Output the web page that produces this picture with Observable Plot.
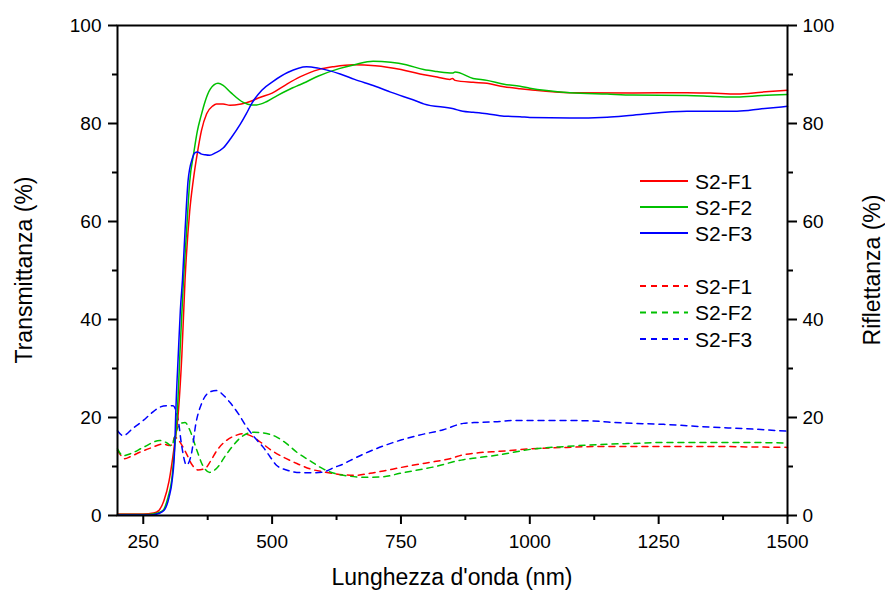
<!DOCTYPE html>
<html>
<head>
<meta charset="utf-8">
<script src="https://cdn.jsdelivr.net/npm/d3@7"></script>
<script src="https://cdn.jsdelivr.net/npm/@observablehq/plot@0.6"></script>
<style>
  html, body { margin: 0; padding: 0; background: #fff; }
  #chart { width: 885px; height: 590px; }
</style>
</head>
<body>
<div id="chart"></div>
<script>
// ---- Data ----
const seriesNames = ["S2-F1", "S2-F2", "S2-F3"];
const seriesColors = ["#ff0000", "#00c000", "#0000ff"];

// Transmittance (solid)
const tRedWl = [200,250,270,280,290,300,310,318,325,331,340,347,355,363,373,385,392,405,418,440,460,476,500,525,554,590,620,658,700,750,787,820,845,850,855,890,917,950,981,1000,1078,1200,1305,1350,1402,1450,1500];
const tRedVal = [0.3,0.3,0.5,1.0,3.0,7.0,14,21,33,48,62,68.4,74,78.6,82,83.6,84,84,83.7,84,84.6,85.3,86.2,87.8,89.5,91,91.6,92,91.8,91,90.1,89.5,89.0,89.2,88.8,88.4,88.2,87.5,87.1,86.9,86.3,86.2,86.3,86.2,86.0,86.4,86.8];

const tGreenWl = [200,260,278,288,298,305,311,316,322,328,334,340,348,355,362,370,380,395,405,420,444,460,470,490,510,540,554,590,630,660,696,730,760,794,820,850,855,890,917,950,981,1000,1078,1150,1200,1305,1360,1402,1450,1500];
const tGreenVal = [0.2,0.2,0.5,1,3.7,7.1,13.9,21,35,48,58,68,74,78.5,81.5,84.5,87,88.2,87.8,86.3,84.3,83.8,83.8,84.5,85.7,87.3,87.9,89.7,91.2,92,92.7,92.5,92,91,90.6,90.3,90.5,89.2,88.8,88,87.6,87.2,86.3,86,85.8,85.7,85.5,85.4,85.7,85.9];

const tBlueWl = [200,265,280,290,300,306,311,313,318,322,326,331,337,345,350,355,362,370,379,390,405,420,438,450,460,480,502,530,567,590,632,660,700,730,787,794,852,870,890,917,950,981,1000,1078,1150,1200,1305,1402,1450,1500];
const tBlueVal = [0.1,0.1,0.4,1,3.7,7.1,13.9,20.8,33,42,48,58,68.4,72.8,74,74.2,73.8,73.6,73.5,74,75,77,79.8,82,84,86.8,88.6,90.4,91.6,91.3,90.1,89,87.6,86.4,84.3,84,83,82.5,82.3,82,81.5,81.4,81.2,81.1,81.3,81.7,82.5,82.5,83,83.5];

// Reflectance (dashed)
const rRedWl = [200,207,214,225,243,265,289,300,306,311,318,332,345,356,370,380,393,410,431,442,460,477,500,522,548,574,600,638,660,690,716,750,781,815,845,871,900,942,1001,1072,1137,1200,1260,1357,1420,1500];
const rRedVal = [13.3,12.2,11.6,12.0,12.9,13.8,14.6,14.3,14.4,16.0,15.4,13.0,10.3,9.3,9.6,11,13.3,15.2,16.4,16.7,16.2,15,13.2,11.9,10.6,9.5,8.9,8.3,8.2,8.6,9.1,9.8,10.4,11.0,11.6,12.4,12.8,13.1,13.6,13.9,14.1,14.1,14.1,14.1,14.0,13.9];

const rGreenWl = [200,211,225,250,282,296,305,312,321,331,340,354,365,379,392,412,444,463,480,509,530,548,573,599,638,684,716,748,813,871,900,942,1001,1072,1137,1200,1260,1357,1420,1500];
const rGreenVal = [13.6,12.2,12.6,13.9,15.3,14.8,14.2,16.5,18.7,19.0,17.5,13.3,10.3,8.8,9.6,12.6,16.3,17.0,16.9,16.0,14.5,12.9,11.2,9.5,8.2,7.8,7.9,8.6,9.9,11.4,11.8,12.4,13.5,14.1,14.5,14.7,14.9,14.9,14.9,14.8];

const rBlueWl = [200,211,230,250,265,282,295,308,314,318,324,334,344,352,363,379,392,405,418,435,451,467,483,496,509,528,548,575,600,620,638,651,683,716,750,781,832,871,900,942,968,1007,1065,1137,1162,1260,1357,1421,1500];
const rBlueVal = [17.3,16.3,17.8,19.4,20.8,22.1,22.4,22.4,21.2,19.4,14.6,10.3,12.9,18.7,22.8,25.2,25.5,24.6,23.1,20.7,18,15.8,13.9,12,10.2,9.3,8.8,8.7,8.9,9.8,10.5,11.2,12.8,14.2,15.4,16.3,17.5,18.8,19.0,19.2,19.4,19.4,19.4,19.2,19.0,18.6,18.0,17.7,17.2];

// Axis ticks and labels
const xMajor = [250, 500, 750, 1000, 1250, 1500];
const xMinor = [375, 625, 875, 1125, 1375];
const yMajor = [0, 20, 40, 60, 80, 100];
const yMinor = [10, 30, 50, 70, 90];
const xTitle = "Lunghezza d'onda (nm)";
const yLeftTitle = "Transmittanza (%)";
const yRightTitle = "Riflettanza (%)";

// ---- Build ----
const toRows = (wl, vals) => wl.map((w, i) => ({w, v: vals[i]}));
const tSets = [toRows(tRedWl, tRedVal), toRows(tGreenWl, tGreenVal), toRows(tBlueWl, tBlueVal)];
const rSets = [toRows(rRedWl, rRedVal), toRows(rGreenWl, rGreenVal), toRows(rBlueWl, rBlueVal)];

const W = 885, H = 590, mL = 117, mR = 98, mT = 25, mB = 75;
const axisCommon = {stroke: "black", strokeWidth: 2, label: null, fill: "black"};

const marks = [];
rSets.forEach((d, i) => marks.push(Plot.line(d, {x: "w", y: "v", stroke: seriesColors[i], strokeWidth: 1.5, strokeDasharray: "6,5", curve: "monotone-x"})));
tSets.forEach((d, i) => marks.push(Plot.line(d, {x: "w", y: "v", stroke: seriesColors[i], strokeWidth: 1.5, curve: "monotone-x"})));
marks.push(
  Plot.frame({stroke: "black", strokeWidth: 2}),
  Plot.axisX({...axisCommon, ticks: xMajor, tickSize: 9, tickPadding: 10, tickFormat: d => String(d)}),
  Plot.axisX({...axisCommon, ticks: xMinor, tickSize: 5, tickFormat: () => ""}),
  Plot.axisY({...axisCommon, ticks: yMajor, tickSize: 9, tickPadding: 7, tickFormat: d => String(d)}),
  Plot.axisY({...axisCommon, ticks: yMinor, tickSize: 5, tickFormat: () => ""}),
  Plot.axisY({...axisCommon, anchor: "right", ticks: yMajor, tickSize: 9, tickPadding: 6, tickFormat: d => String(d)}),
  Plot.axisY({...axisCommon, anchor: "right", ticks: yMinor, tickSize: 5, tickFormat: () => ""})
);

const svg = Plot.plot({
  width: W, height: H,
  marginLeft: mL, marginRight: mR, marginTop: mT, marginBottom: mB,
  x: {domain: [200, 1500]},
  y: {domain: [0, 100]},
  style: {fontFamily: "Arial, 'Liberation Sans', sans-serif", fontSize: "19px", color: "black", background: "white", overflow: "visible"},
  marks
});

const s = d3.select(svg);
const font = "Arial, 'Liberation Sans', sans-serif";
// Axis titles
s.append("text").attr("x", (mL + W - mR) / 2).attr("y", 585)
  .attr("text-anchor", "middle").attr("font-family", font).attr("font-size", 23).attr("fill", "black").text(xTitle);
s.append("text").attr("transform", `translate(32,${(mT + H - mB) / 2}) rotate(-90)`)
  .attr("text-anchor", "middle").attr("font-family", font).attr("font-size", 23).attr("fill", "black").text(yLeftTitle);
s.append("text").attr("transform", `translate(880,${(mT + H - mB) / 2}) rotate(-90)`)
  .attr("text-anchor", "middle").attr("font-family", font).attr("font-size", 23).attr("fill", "black").text(yRightTitle);

// Legend
const legendRows = [181, 207, 233, 286, 312.5, 339];
legendRows.forEach((y, k) => {
  const i = k % 3;
  const dashed = k >= 3;
  s.append("line").attr("x1", 640).attr("x2", 688).attr("y1", y).attr("y2", y)
    .attr("stroke", seriesColors[i]).attr("stroke-width", 1.8)
    .attr("stroke-dasharray", dashed ? "6,5" : null);
  s.append("text").attr("x", 695).attr("y", y).attr("dy", "0.36em")
    .attr("text-anchor", "start")
    .attr("font-family", font).attr("font-size", 21).attr("fill", "black").text(seriesNames[i]);
});

document.getElementById("chart").appendChild(svg);
</script>
</body>
</html>
